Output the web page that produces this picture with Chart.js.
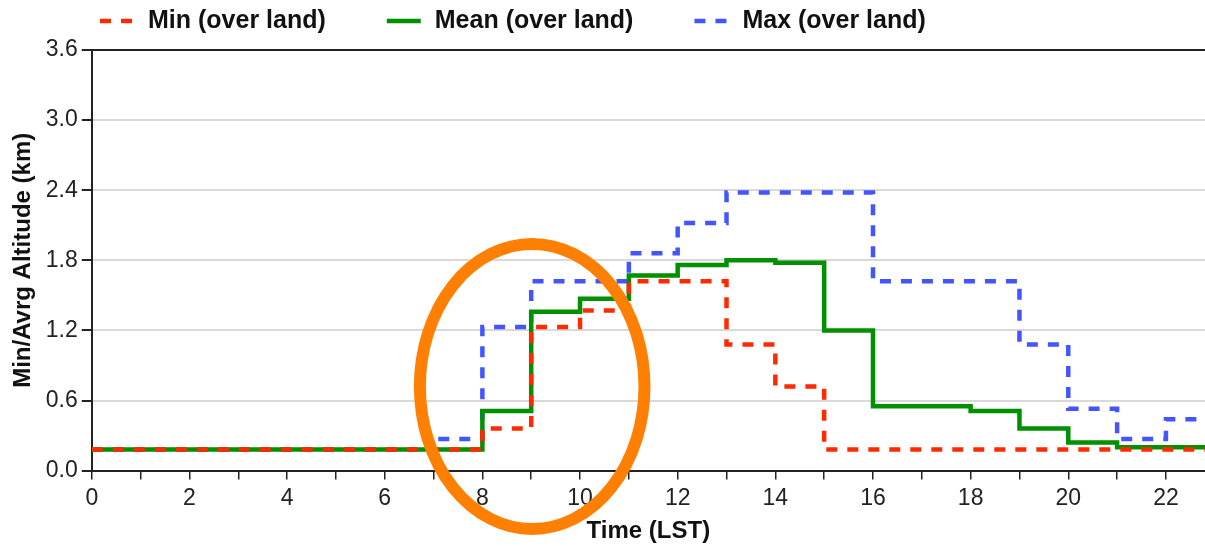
<!DOCTYPE html>
<html><head><meta charset="utf-8">
<script src="https://cdn.jsdelivr.net/npm/chart.js@4/dist/chart.umd.min.js"></script>
<style>html,body{margin:0;padding:0;background:#fff;overflow:hidden}#wrap{width:1205px;height:546px;position:relative}canvas{display:block}</style>
</head><body><div id="wrap"><canvas id="c" width="1205" height="546"></canvas></div>
<script>
// Hour starts (LST); last entry closes the final step
const hours = [0,1,2,3,4,5,6,7,8,9,10,11,12,13,14,15,16,17,18,19,20,21,22,23];
const minLand  = [0.18,0.18,0.18,0.18,0.18,0.18,0.18,0.18,0.36,1.23,1.37,1.62,1.62,1.08,0.72,0.18,0.18,0.18,0.18,0.18,0.18,0.18,0.18,0.18];
const meanLand = [0.18,0.18,0.18,0.18,0.18,0.18,0.18,0.18,0.51,1.36,1.47,1.67,1.76,1.80,1.78,1.20,0.55,0.55,0.51,0.36,0.24,0.20,0.20,0.20];
const maxLand  = [0.18,0.18,0.18,0.18,0.18,0.18,0.18,0.27,1.23,1.62,1.62,1.86,2.12,2.38,2.38,2.38,1.62,1.62,1.62,1.08,0.53,0.27,0.44,0.44];
const seriesNames = ['Min (over land)','Mean (over land)','Max (over land)'];
const yTicks = [0,0.6,1.2,1.8,2.4,3.0,3.6];
const xTickLabels = [0,2,4,6,8,10,12,14,16,18,20,22];
// Highlight ellipse in data units: centre hour, centre km, half-width hours, half-height km
const highlight = {x: 9.02, y: 0.72, rx: 2.3, ry: 1.22};

const FONT = "'Liberation Sans', Arial, sans-serif";
const pts = arr => hours.map((h,i)=>({x:h,y:arr[i]}));

const legendPlugin = {
  id:'customLegend',
  afterDraw(chart){
    const ctx = chart.ctx;
    ctx.save();
    ctx.font = "bold 25px " + FONT;
    ctx.textBaseline = 'middle';
    let x = 100; const y = 21;
    chart.data.datasets.forEach(ds=>{
      ctx.strokeStyle = ds.borderColor;
      ctx.lineWidth = ds.borderWidth;
      ctx.setLineDash(ds.borderDash || []);
      ctx.beginPath(); ctx.moveTo(x, y); ctx.lineTo(x+34, y); ctx.stroke();
      ctx.setLineDash([]);
      ctx.fillStyle = '#111';
      ctx.fillText(ds.label, x+48, y);
      x += 48 + ctx.measureText(ds.label).width + 61;
    });
    ctx.restore();
  }
};
const ellipsePlugin = {
  id:'ellipse',
  afterDraw(chart){
    const xs = chart.scales.x, ys = chart.scales.y, ctx = chart.ctx;
    const cx = xs.getPixelForValue(highlight.x), cy = ys.getPixelForValue(highlight.y);
    const rx = xs.getPixelForValue(highlight.x + highlight.rx) - cx;
    const ry = cy - ys.getPixelForValue(highlight.y + highlight.ry);
    ctx.save();
    ctx.strokeStyle = '#ff7f00'; ctx.lineWidth = 12;
    ctx.beginPath(); ctx.ellipse(cx, cy, rx, ry, 0, 0, Math.PI*2); ctx.stroke();
    ctx.restore();
  }
};

new Chart(document.getElementById('c'), {
  type:'line',
  data:{ datasets:[
    {label:seriesNames[0], data:pts(minLand), borderColor:'#ff2a00', borderWidth:4.5, borderDash:[11,10], stepped:true, pointRadius:0, fill:false},
    {label:seriesNames[1], data:pts(meanLand), borderColor:'#009000', borderWidth:4.5, stepped:true, pointRadius:0, fill:false},
    {label:seriesNames[2], data:pts(maxLand), borderColor:'#4455ff', borderWidth:4.5, borderDash:[11,10], stepped:true, pointRadius:0, fill:false}
  ]},
  options:{
    responsive:false, animation:false, devicePixelRatio:1,
    layout:{padding:{left:7, top:50, right:0, bottom:0}},
    plugins:{legend:{display:false}, tooltip:{enabled:false}},
    scales:{
      x:{ type:'linear', min:0, max:22.8,
        afterBuildTicks: s => { s.ticks = hours.filter(h=>h<=22.8).map(v=>({value:v})); },
        ticks:{ stepSize:1, autoSkip:false, maxRotation:0, padding:5, color:'#222', font:{family:FONT, size:23},
          callback: v => xTickLabels.includes(v) ? String(v) : '' },
        grid:{ drawOnChartArea:false, drawTicks:true, tickLength:9, tickColor:'#222', lineWidth:1.5 },
        border:{ color:'#222', width:2 },
        title:{ display:true, text:'Time (LST)', color:'#111', font:{family:FONT, size:24, weight:'bold'}, padding:{top:0,bottom:0} }
      },
      y:{ min:0, max:3.6,
        afterBuildTicks: s => { s.ticks = yTicks.map(v=>({value:v})); },
        ticks:{ padding:4, color:'#222', font:{family:FONT, size:23}, callback: v => Number(v).toFixed(1) },
        grid:{ tickLength:10, tickColor:'#222',
          color: c => c.tick && c.tick.value === 3.6 ? '#222' : (c.tick && c.tick.value === 0 ? 'rgba(0,0,0,0)' : '#d9d9d9'),
          lineWidth: 2 },
        border:{ color:'#222', width:2 },
        title:{ display:true, text:'Min/Avrg Altitude (km)', color:'#111', font:{family:FONT, size:24, weight:'bold'}, padding:{top:2,bottom:4} }
      }
    }
  },
  plugins:[legendPlugin, ellipsePlugin]
});
</script>
</body></html>
